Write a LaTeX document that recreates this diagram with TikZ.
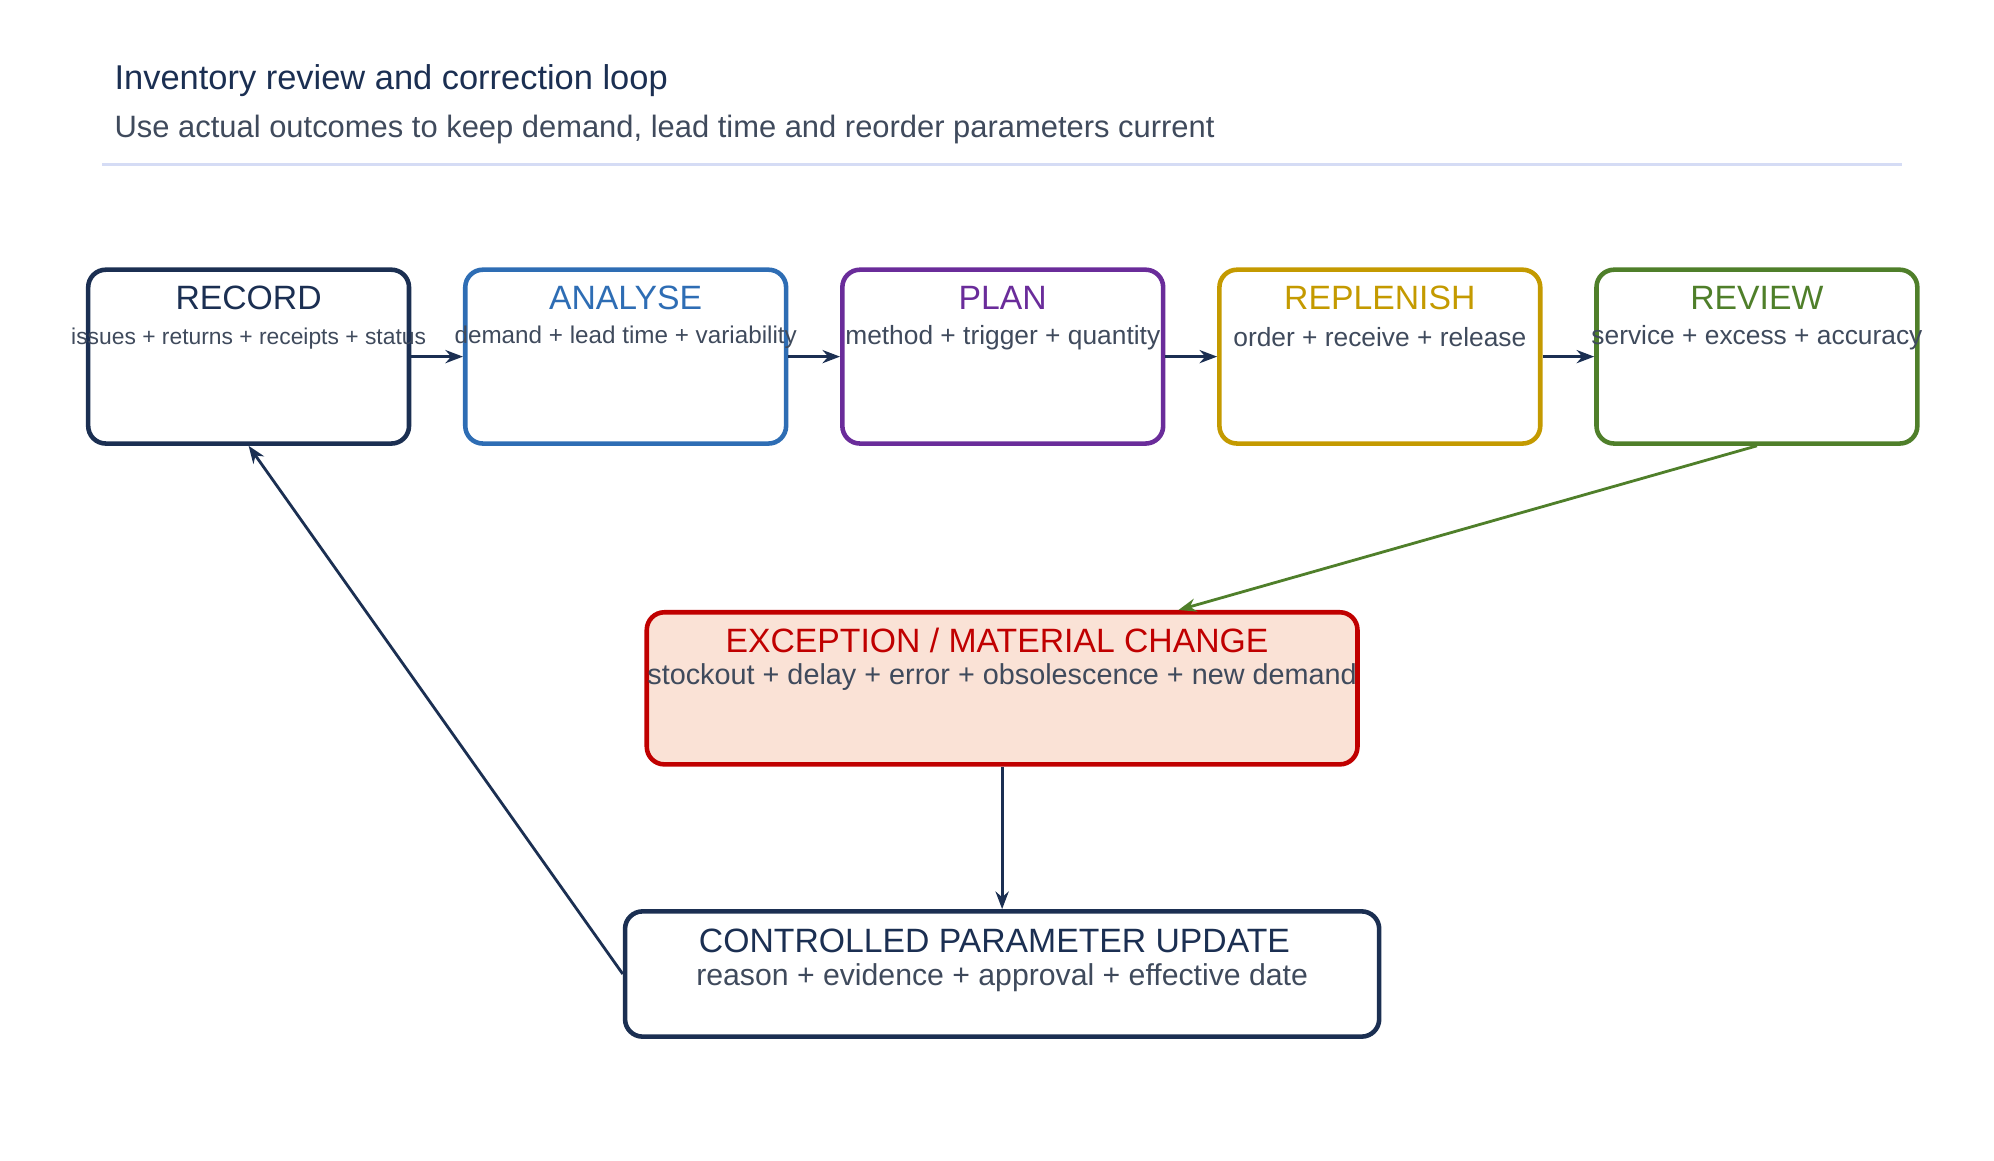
\documentclass[tikz,border=0pt]{standalone}
\usepackage{fontspec}
\setmainfont{Liberation Sans}
\usetikzlibrary{arrows.meta}
\newdimen\pxu \pxu=0.01278cm
\definecolor{navy}{HTML}{1B2F52}
\definecolor{stepblue}{HTML}{2E6DB4}
\definecolor{steppurple}{HTML}{6A2C9A}
\definecolor{stepgold}{HTML}{C49A00}
\definecolor{stepgreen}{HTML}{4F7F2A}
\definecolor{stepred}{HTML}{C00000}
\definecolor{redfill}{HTML}{FAE2D6}
\definecolor{greytext}{HTML}{3F4A5C}
\definecolor{rulecol}{HTML}{D5DCF5}
\tikzset{
  step/.style={draw=#1, line width=1.3pt, rounded corners=5pt, minimum width=251\pxu, minimum height=136\pxu},
  head/.style={text=#1, font=\fontsize{9.6}{11}\selectfont, anchor=center},
  sub/.style={text=greytext, font=\fontsize{7.5}{9}\selectfont, anchor=center},
  flow/.style={draw=navy, line width=0.8pt, -{Stealth[length=5pt]}}
}
\begin{document}
\begin{tikzpicture}[x=\pxu,y=-\pxu]
\useasboundingbox (0,0) rectangle (1560,908);

        %Title
        \node [anchor=west, text=navy, font=\fontsize{9.8}{11}\selectfont] (title) at (80,63) {Inventory review and correction loop};
        \node [anchor=west, text=greytext, font=\fontsize{8.8}{10}\selectfont] (subtitle) at (80,101) {Use actual outcomes to keep demand, lead time and reorder parameters current};
        \draw [rulecol, line width=0.8pt] (80,129) -- (1488,129);

        %Steps
        \node [step=navy] (record) at (194.5,279) {};
        \node [step=stepblue] (analyse) at (489.5,279) {};
        \node [step=steppurple] (plan) at (784.5,279) {};
        \node [step=stepgold] (replenish) at (1079.5,279) {};
        \node [step=stepgreen] (review) at (1374.5,279) {};

        \node [head=navy] at (194.5,233) {RECORD};
        \node [sub, font=\fontsize{6.5}{8}\selectfont] at (194.5,265) {issues + returns + receipts + status};
        \node [head=stepblue] at (489.5,233) {ANALYSE};
        \node [sub, font=\fontsize{6.9}{8}\selectfont] at (489.5,264) {demand + lead time + variability};
        \node [head=steppurple] at (784.5,233) {PLAN};
        \node [sub] at (784.5,264) {method + trigger + quantity};
        \node [head=stepgold] at (1079.5,233) {REPLENISH};
        \node [sub] at (1079.5,264) {order + receive + release};
        \node [head=stepgreen] at (1374.5,233) {REVIEW};
        \node [sub] at (1374.5,264) {service + excess + accuracy};

        %Exception
        \node [step=stepred, fill=redfill, minimum width=556\pxu, minimum height=119\pxu] (exception) at (784,538.5) {};
        \node [head=stepred] at (780,501) {EXCEPTION / MATERIAL CHANGE};
        \node [sub, font=\fontsize{8.2}{10}\selectfont] at (784,530) {stockout + delay + error + obsolescence + new demand};

        %Update
        \node [step=navy, minimum width=590\pxu, minimum height=98\pxu] (update) at (784,762) {};
        \node [head=navy] at (778,736) {CONTROLLED PARAMETER UPDATE};
        \node [sub, font=\fontsize{8.6}{10}\selectfont] at (784,765) {reason + evidence + approval + effective date};

        %Connectors
        \draw [flow] (record) -- (analyse);
        \draw [flow] (analyse) -- (plan);
        \draw [flow] (plan) -- (replenish);
        \draw [flow] (replenish) -- (review);
        \draw [flow, draw=stepgreen] (review.south) -- (exception.north -| 922,0);
        \draw [flow] (exception) -- (update);
        \draw [flow] (update.west) -- (record.south);

\end{tikzpicture}
\end{document}
